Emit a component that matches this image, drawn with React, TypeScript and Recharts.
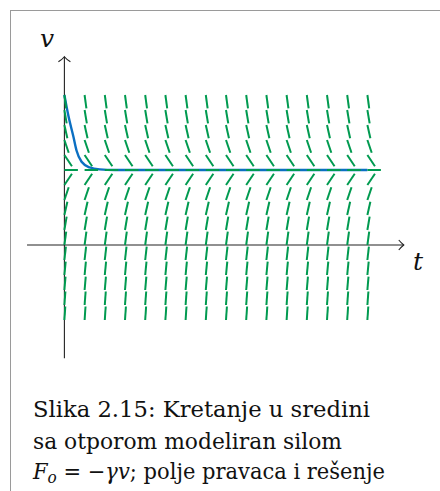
import {ComposedChart, Line, ReferenceDot, ReferenceLine, Scatter, XAxis, YAxis} from "recharts";

const W = 440;
const H = 491;
const MARGIN = {top: 50, right: 12, bottom: 126, left: 24};
const T_DOMAIN: [number, number] = [-2, 18];
const V_DOMAIN: [number, number] = [-8, 13];

// direction field grid
const tGrid = [0, 1, 2, 3, 4, 5, 6, 7, 8, 9, 10, 11, 12, 13, 14, 15];
const vGrid = [-5, -4, -3, -2, -1, 0, 1, 2, 3, 4, 5, 6, 7, 8, 9, 10];
// dv/dt on each row of the grid
const rowSlopes = [20, 18, 16, 14, 12, 10, 8, 6, 4, 2, 0, -2, -4, -6, -8, -10];

// solution curve v(t), starting at v = 10
const solT = [0, 0.2, 0.45, 0.6, 0.85, 1.25, 1.75, 2.5, 15];
const solV = [10, 8.6, 7.2, 6.3, 5.55, 5.17, 5.04, 5.0, 5.0];

// axis extents
const tAxis = [-1.85, 16.8];
const vAxis = [-7.55, 12.55];

const GREEN = "#009a50";
const BLUE = "#0b6fc2";
const AXIS = "#222";
const SERIF = "DejaVu Serif";

const pxPerT = (W - MARGIN.left - MARGIN.right) / (T_DOMAIN[1] - T_DOMAIN[0]);
const pxPerV = (H - MARGIN.top - MARGIN.bottom) / (V_DOMAIN[1] - V_DOMAIN[0]);
const SEG = 13.5;

const field = tGrid.flatMap(t => vGrid.map((v, i) => ({t, v, slope: rowSlopes[i]})));
const solution = solT.map((t, i) => ({t, v: solV[i]}));

// short segment starting at the grid point, pointing along (1, dv/dt)
const Segment = (props: any) => {
  const {cx, cy, payload} = props;
  const dx = pxPerT;
  const dy = -payload.slope * pxPerV;
  const n = Math.hypot(dx, dy);
  return <line x1={cx} y1={cy} x2={cx + SEG * dx / n} y2={cy + SEG * dy / n}
               stroke={GREEN} strokeWidth={2}/>;
};

const ArrowUp = ({cx, cy}: any) =>
  <path d={`M${cx - 6},${cy + 5} Q${cx - 2},${cy + 2.5} ${cx},${cy} Q${cx + 2},${cy + 2.5} ${cx + 6},${cy + 5}`}
        fill="none" stroke={AXIS} strokeWidth={1.1}/>;

const ArrowRight = ({cx, cy}: any) =>
  <path d={`M${cx - 5},${cy - 5} Q${cx - 2.5},${cy - 2} ${cx},${cy} Q${cx - 2.5},${cy + 2} ${cx - 5},${cy + 5}`}
        fill="none" stroke={AXIS} strokeWidth={1.1}/>;

const txt = {fontFamily: SERIF, fill: "#111"};

export default function App() {
  return <div style={{position: "absolute", left: 0, top: 0, width: W, height: H, background: "#fff"}}>
    <div style={{
      position: "absolute", left: 10, top: 10, width: W - 10, height: H - 10,
      borderTop: "1px solid #9a9a9a", borderLeft: "1px solid #9a9a9a", boxSizing: "border-box"
    }}/>
    <div style={{position: "absolute", left: 0, top: 0}}>
      <ComposedChart width={W} height={H} margin={MARGIN}>
        <XAxis type="number" dataKey="t" domain={T_DOMAIN} allowDataOverflow hide/>
        <YAxis type="number" dataKey="v" domain={V_DOMAIN} allowDataOverflow hide/>
        <Scatter data={field} dataKey="v" shape={Segment} isAnimationActive={false}/>
        <ReferenceLine segment={[{x: tAxis[0], y: 0}, {x: tAxis[1], y: 0}]} stroke={AXIS} strokeWidth={1.1}/>
        <ReferenceLine segment={[{x: 0, y: vAxis[0]}, {x: 0, y: vAxis[1]}]} stroke={AXIS} strokeWidth={1.1}/>
        <ReferenceDot x={tAxis[1]} y={0} shape={ArrowRight}/>
        <ReferenceDot x={0} y={vAxis[1]} shape={ArrowUp}/>
        <Line data={solution} dataKey="v" type="monotone" stroke={BLUE} strokeWidth={2.4}
              dot={false} isAnimationActive={false}/>
      </ComposedChart>
    </div>
    <svg width={W} height={H} style={{position: "absolute", left: 0, top: 0, pointerEvents: "none"}}>
      <text x={47} y={47} fontSize={25} fontStyle="italic" textAnchor="middle" style={txt}>v</text>
      <text x={418} y={270} fontSize={25} fontStyle="italic" textAnchor="middle" style={txt}>t</text>
      <text x={33} y={417} fontSize={22} textLength={337} lengthAdjust="spacingAndGlyphs" style={txt}>
        Slika 2.15: Kretanje u sredini
      </text>
      <text x={33} y={449} fontSize={22} textLength={309} lengthAdjust="spacingAndGlyphs" style={txt}>
        sa otporom modeliran silom
      </text>
      <text x={33} y={479} fontSize={22} textLength={352} lengthAdjust="spacingAndGlyphs" style={txt}>
        <tspan fontStyle="italic">F</tspan>
        <tspan fontStyle="italic" fontSize={16} dy={4}>o</tspan>
        <tspan dy={-4}> = −</tspan>
        <tspan fontStyle="italic">γv</tspan>
        <tspan>; polje pravaca i rešenje</tspan>
      </text>
    </svg>
  </div>;
}
